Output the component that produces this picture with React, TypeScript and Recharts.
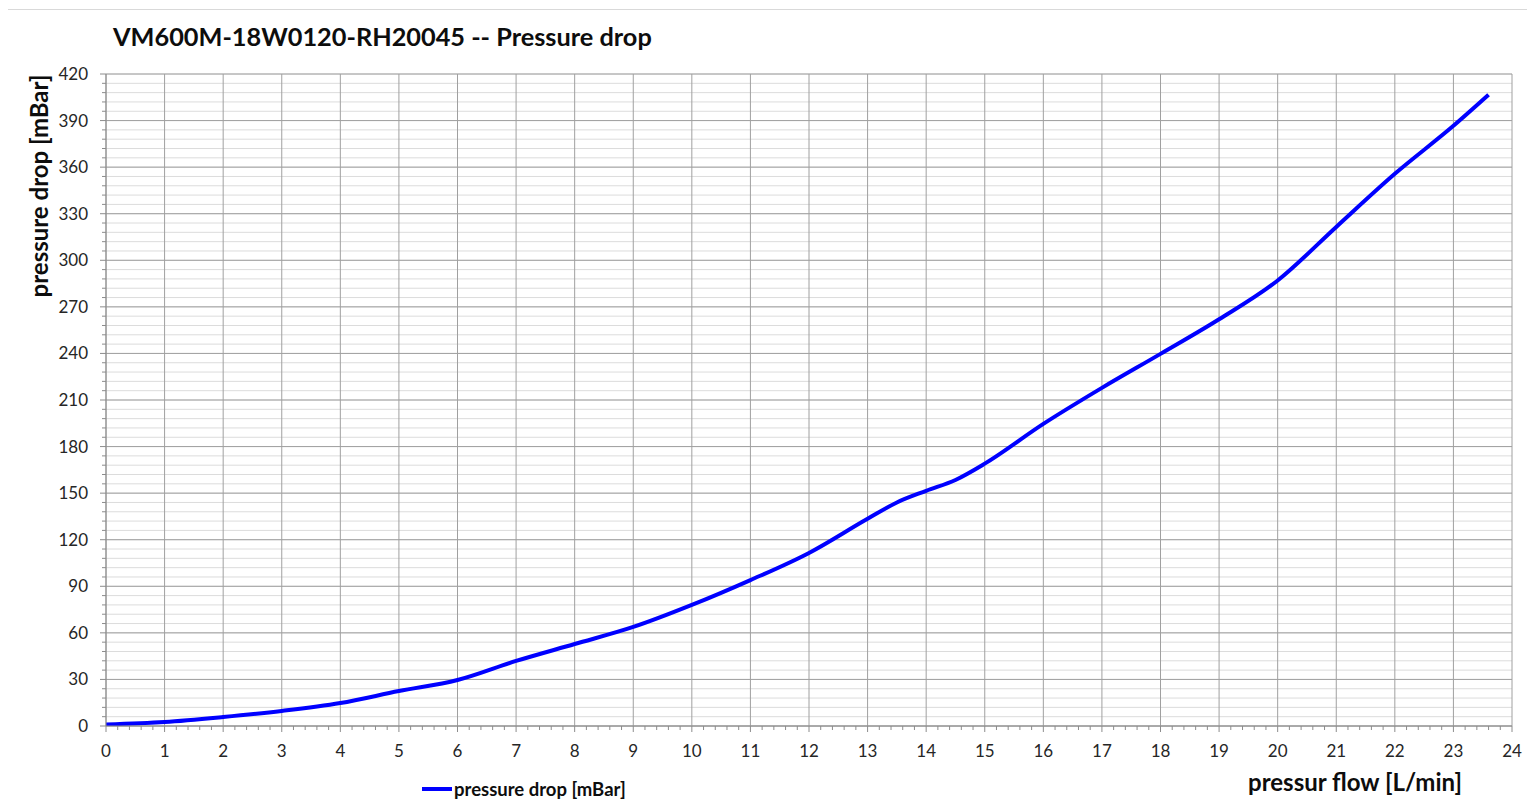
import React from 'react'
import { LineChart, Line, XAxis, YAxis, CartesianGrid } from 'recharts'

const flow = [0, 1, 2, 3, 4, 5, 6, 7, 8, 9, 10, 11, 12, 13, 13.5, 14, 14.5, 15, 16, 17, 18, 19, 20, 21, 22, 23, 23.6]
const pressureDrop = [1, 2.6, 5.8, 9.7, 14.8, 22.5, 29.6, 41.9, 52.8, 63.8, 78, 94, 111.5, 133.5, 144, 151.5, 158.5, 169, 194.6, 217.8, 239.7, 262, 287, 321.5, 355.7, 386.6, 406.6]

const xMajor = [0, 1, 2, 3, 4, 5, 6, 7, 8, 9, 10, 11, 12, 13, 14, 15, 16, 17, 18, 19, 20, 21, 22, 23, 24]
const yMajor = [0, 30, 60, 90, 120, 150, 180, 210, 240, 270, 300, 330, 360, 390, 420]
// minor ticks: 5 per major step
const xMinor = Array.from({ length: 121 }, (_, i) => Math.round(i * 2) / 10)
const yMinor = Array.from({ length: 71 }, (_, i) => i * 6)

const data = flow.map((f, i) => ({ flow: f, drop: pressureDrop[i] }))

const font = 'Lato, "Open Sans", sans-serif'
const axisGray = '#8c8c8c'

const XTick = (props: any) => {
  const { x, y, payload } = props
  const v = payload.value
  const major = Math.abs(v - Math.round(v)) < 1e-6
  return (
    <g>
      <line x1={x} x2={x} y1={y} y2={y + (major ? 6 : 4)} stroke={axisGray} strokeWidth={1} />
      {major && (
        <text x={x} y={y + 31} textAnchor="middle" fontSize={17} fontFamily={font} fill="#262626">
          {v}
        </text>
      )}
    </g>
  )
}

const YTick = (props: any) => {
  const { x, y, payload } = props
  const v = payload.value
  const major = v % 30 === 0
  return (
    <g>
      <line x1={x} x2={x - (major ? 6 : 4)} y1={y} y2={y} stroke={axisGray} strokeWidth={1} />
      {major && (
        <text x={x - 18} y={y + 6} textAnchor="end" fontSize={17} fontFamily={font} fill="#262626">
          {v}
        </text>
      )}
    </g>
  )
}

export default function App() {
  return (
    <div
      style={{
        position: 'relative',
        marginLeft: -4,
        marginTop: 1,
        width: 1531,
        height: 800,
        border: '1px solid #d9d9d9',
        boxSizing: 'border-box',
        background: '#fff',
        fontFamily: font,
        color: '#0d0d0d',
      }}
    >
      <div style={{ position: 'absolute', left: 0, top: 0 }}>
        <LineChart width={1529} height={793} data={data} margin={{ top: 64, right: 22, left: 0, bottom: 0 }}>
          <CartesianGrid horizontalValues={yMinor} vertical={false} stroke="#dcdcdc" strokeWidth={1} />
          <CartesianGrid horizontalValues={yMajor} verticalValues={xMajor} stroke="#a0a0a0" strokeWidth={1} />
          <XAxis
            dataKey="flow"
            type="number"
            domain={[0, 24]}
            ticks={xMinor}
            interval={0}
            height={77}
            tickSize={0}
            tickMargin={0}
            tickLine={false}
            tick={<XTick />}
            axisLine={{ stroke: axisGray }}
            allowDataOverflow
          />
          <YAxis
            type="number"
            domain={[0, 420]}
            ticks={yMinor}
            interval={0}
            width={101}
            tickSize={0}
            tickMargin={0}
            tickLine={false}
            tick={<YTick />}
            axisLine={{ stroke: axisGray }}
            allowDataOverflow
          />
          <Line
            type="monotone"
            dataKey="drop"
            stroke="#0000ff"
            strokeWidth={4}
            dot={false}
            isAnimationActive={false}
          />
        </LineChart>
      </div>
      <div style={{ position: 'absolute', left: 108, top: 11, fontSize: 25.3, fontWeight: 700, whiteSpace: 'nowrap', lineHeight: '30px' }}>
        VM600M-18W0120-RH20045 -- Pressure drop
      </div>
      <div
        style={{
          position: 'absolute',
          left: 33,
          top: 176,
          transform: 'translate(-50%, -50%) rotate(-90deg)',
          fontSize: 24,
          fontWeight: 700,
          whiteSpace: 'nowrap',
        }}
      >
        pressure drop [mBar]
      </div>
      <div
        style={{
          position: 'absolute',
          left: 1350,
          top: 771,
          transform: 'translate(-50%, -50%)',
          fontSize: 24,
          fontWeight: 700,
          whiteSpace: 'nowrap',
        }}
      >
        pressur flow [L/min]
      </div>
      <div style={{ position: 'absolute', left: 417, top: 779, transform: 'translateY(-50%)', display: 'flex', alignItems: 'center' }}>
        <span style={{ display: 'inline-block', width: 30, height: 4, background: '#0000ff', marginRight: 2 }} />
        <span style={{ fontSize: 18.5, fontWeight: 700, whiteSpace: 'nowrap' }}>pressure drop [mBar]</span>
      </div>
    </div>
  )
}
